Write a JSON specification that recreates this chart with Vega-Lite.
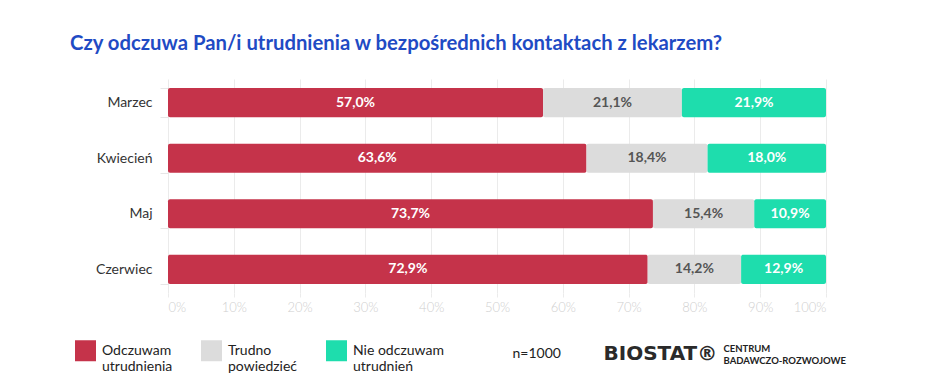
{
  "$schema": "https://vega.github.io/schema/vega-lite/v6.json",
  "width": 658,
  "height": 214,
  "autosize": {"type": "none"},
  "padding": {"left": 168, "top": 79, "right": 118, "bottom": 97},
  "background": "white",
  "config": {
    "locale": {"number": {"decimal": ",", "thousands": " ", "grouping": [3], "currency": ["", " zł"]}},
    "font": "Lato",
    "view": {"stroke": null}
  },
  "title": {
    "text": "Czy odczuwa Pan/i utrudnienia w bezpośrednich kontaktach z lekarzem?",
    "anchor": "start",
    "frame": "group",
    "dx": -98,
    "offset": 18,
    "font": "Lato",
    "fontSize": 20.3,
    "fontWeight": "bold",
    "color": "#1F4BC4"
  },
  "data": {
    "values": [
      {"miesiac": "Marzec", "odp": "Odczuwam utrudnienia", "k": 1, "v": 0.570},
      {"miesiac": "Marzec", "odp": "Trudno powiedzieć", "k": 2, "v": 0.211},
      {"miesiac": "Marzec", "odp": "Nie odczuwam utrudnień", "k": 3, "v": 0.219},
      {"miesiac": "Kwiecień", "odp": "Odczuwam utrudnienia", "k": 1, "v": 0.636},
      {"miesiac": "Kwiecień", "odp": "Trudno powiedzieć", "k": 2, "v": 0.184},
      {"miesiac": "Kwiecień", "odp": "Nie odczuwam utrudnień", "k": 3, "v": 0.180},
      {"miesiac": "Maj", "odp": "Odczuwam utrudnienia", "k": 1, "v": 0.737},
      {"miesiac": "Maj", "odp": "Trudno powiedzieć", "k": 2, "v": 0.154},
      {"miesiac": "Maj", "odp": "Nie odczuwam utrudnień", "k": 3, "v": 0.109},
      {"miesiac": "Czerwiec", "odp": "Odczuwam utrudnienia", "k": 1, "v": 0.729},
      {"miesiac": "Czerwiec", "odp": "Trudno powiedzieć", "k": 2, "v": 0.142},
      {"miesiac": "Czerwiec", "odp": "Nie odczuwam utrudnień", "k": 3, "v": 0.129}
    ]
  },
  "transform": [
    {"stack": "v", "groupby": ["miesiac"], "sort": [{"field": "k", "order": "ascending"}], "as": ["x0", "x1"]},
    {"calculate": "(datum.x0 + datum.x1) / 2", "as": "xm"}
  ],
  "resolve": {"axis": {"x": "independent"}},
  "encoding": {
    "y": {
      "field": "miesiac",
      "type": "nominal",
      "sort": ["Marzec", "Kwiecień", "Maj", "Czerwiec"],
      "scale": {"paddingInner": 0.476, "paddingOuter": 0.163},
      "axis": {
        "title": "BIOSTAT®",
        "titleAngle": 0,
        "titleX": 435,
        "titleY": 274,
        "titleAlign": "left",
        "titleBaseline": "middle",
        "titleFont": "DejaVu Sans",
        "titleFontSize": 20,
        "titleFontWeight": "bold",
        "titleColor": "#2a2a2a",
        "domain": false,
        "tickBand": "extent",
        "tickColor": "#e6e6e6",
        "tickSize": 8,
        "labelPadding": 8,
        "labelFontSize": 14,
        "labelColor": "#333333",
        "labelFont": "Lato"
      }
    }
  },
  "layer": [
    {
      "mark": {"type": "bar", "cornerRadius": 2},
      "encoding": {
        "x": {
          "field": "x0",
          "type": "quantitative",
          "scale": {"domain": [0, 1]},
          "axis": {
            "format": ".0%",
            "values": [0, 0.1, 0.2, 0.3, 0.4, 0.5, 0.6, 0.7, 0.8, 0.9, 1],
            "grid": true,
            "gridColor": "#ebebeb",
            "domain": false,
            "tickColor": "#ebebeb",
            "tickSize": 4,
            "labelPadding": 4,
            "labelFontSize": 13,
            "labelFontWeight": 300,
            "labelColor": "#cfcfcf",
            "labelFont": "Lato",
            "title": "n=1000",
            "titleX": 344,
            "titleY": 60,
            "titleAlign": "left",
            "titleBaseline": "middle",
            "titleFontSize": 14,
            "titleFontWeight": "normal",
            "titleColor": "#222222",
            "titleFont": "Lato"
          }
        },
        "x2": {"field": "x1"},
        "color": {
          "field": "odp",
          "type": "nominal",
          "sort": ["Odczuwam utrudnienia", "Trudno powiedzieć", "Nie odczuwam utrudnień"],
          "scale": {
            "domain": ["Odczuwam utrudnienia", "Trudno powiedzieć", "Nie odczuwam utrudnień"],
            "range": ["#C5334A", "#DCDCDC", "#1EDDAD"]
          },
          "legend": {
            "orient": "none",
            "legendX": -93,
            "legendY": 261,
            "direction": "horizontal",
            "columns": 3,
            "title": null,
            "symbolType": "square",
            "symbolSize": 441,
            "symbolStrokeWidth": 0,
            "symbolOpacity": 1,
            "labelFontSize": 14,
            "labelColor": "#222222",
            "labelFont": "Lato",
            "labelOffset": 6,
            "columnPadding": 28,
            "labelExpr": "datum.label == 'Odczuwam utrudnienia' ? ['Odczuwam', 'utrudnienia'] : datum.label == 'Trudno powiedzieć' ? ['Trudno', 'powiedzieć'] : ['Nie odczuwam', 'utrudnień']"
          }
        },
        "order": {"field": "k"}
      }
    },
    {
      "mark": {"type": "text", "font": "Lato", "fontWeight": "bold", "fontSize": 14, "baseline": "middle", "align": "center"},
      "encoding": {
        "x": {
          "field": "xm",
          "type": "quantitative",
          "axis": {
            "orient": "top",
            "labels": false,
            "ticks": false,
            "domain": false,
            "grid": false,
            "title": ["CENTRUM", "BADAWCZO-ROZWOJOWE"],
            "titleX": 555,
            "titleY": 264,
            "titleAlign": "left",
            "titleBaseline": "top",
            "titleFont": "Lato",
            "titleFontSize": 9.5,
            "titleFontWeight": "bold",
            "titleLineHeight": 12,
            "titleColor": "#222222"
          }
        },
        "text": {"field": "v", "type": "quantitative", "format": ".1%"},
        "color": {
          "condition": {"test": "datum.k == 2", "value": "#555555"},
          "value": "#ffffff"
        }
      }
    }
  ]
}
